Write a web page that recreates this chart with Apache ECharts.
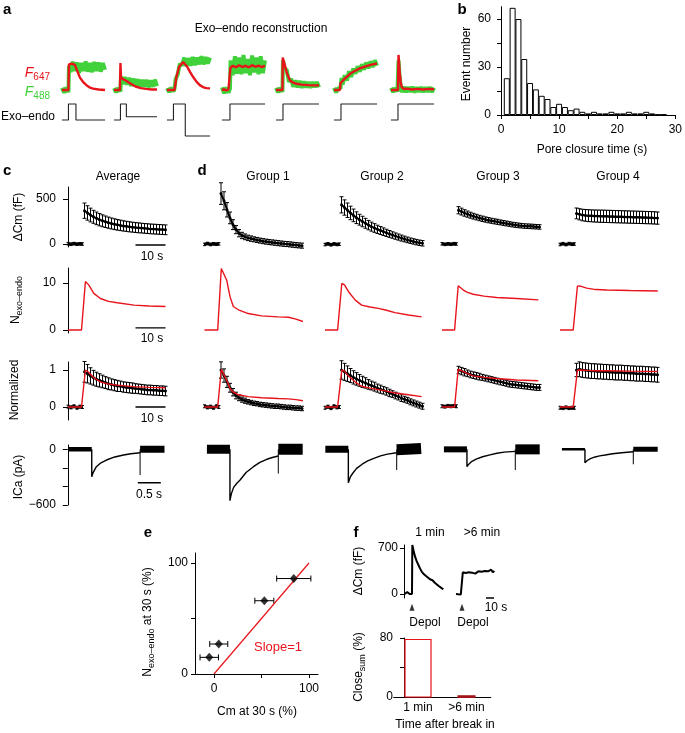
<!DOCTYPE html>
<html><head><meta charset="utf-8">
<script src="https://cdn.jsdelivr.net/npm/echarts@6/dist/echarts.min.js"></script>
<style>html,body{margin:0;padding:0;background:#fff}#c{width:685px;height:733px}</style>
</head><body><div id="c"></div>
<script>
const FONT = "'Liberation Sans', Arial, Helvetica, sans-serif";
const RED = '#e8141c', GREEN = '#41d13a', DKRED = '#a3141a';

// ---------- Panel a: exo-endo reconstruction ----------
const aRed1 = [[0,0],[6,0],[6.5,0.95],[9,0.98],[12,0.93],[14,0.72],[16.7,0.46],[20,0.28],[23,0.17],[26,0.09],[29,0.05],[34,0.02],[40,0]];
const aGreen1 = [[0,0.08],[2,-0.1],[4,0.09],[6,-0.08],[6.5,0.9],[8,0.66],[10,1.05],[12,0.7],[14,1.02],[16,0.64],[18,1.0],[20,0.7],[22,1.06],[24,0.68],[26,1.0],[28,0.66],[30,1.04],[32,0.7],[34,1.02],[36,0.68],[38,1.0],[40,0.75]];
const aRed2 = [[0,0],[5.5,0],[6,1.0],[6.5,0.45],[8,0.4],[10,0.37],[13,0.3],[16,0.22],[20,0.13],[25,0.07],[30,0.04],[35,0.02],[40,0.02]];
const aGreen2 = [[0,0.07],[2,-0.09],[4,0.08],[6,-0.06],[6.5,0.5],[8,0.22],[10,0.48],[12,0.2],[14,0.45],[16,0.15],[18,0.42],[20,0.14],[22,0.4],[24,0.12],[26,0.38],[28,0.12],[30,0.38],[32,0.1],[34,0.36],[36,0.12],[38,0.38],[40,0.14]];
const aRed3 = [[0,0],[7,0],[7.4,0.05],[8.8,0.49],[11.3,0.86],[15,1.04],[16.5,1.0],[18.5,0.88],[21.4,0.67],[24.5,0.47],[27.6,0.3],[30.5,0.18],[33.8,0.1],[37,0.07],[40,0.06]];
const aGreen3 = [[0,0.07],[2,-0.08],[4,0.09],[6,-0.06],[7,0.05],[8,0.4],[10,0.58],[12,0.98],[14,0.9],[16,1.2],[18,0.88],[20,1.18],[22,0.9],[24,1.22],[26,0.92],[28,1.2],[30,0.95],[32,1.25],[34,0.95],[36,1.22],[38,0.98],[40,1.2]];
const aRed4 = [[0,0],[2,0.03],[4,-0.02],[6,0.02],[7.4,0],[7.8,0.82],[10,0.9],[13,0.84],[16,0.92],[19,0.85],[22,0.9],[25,0.84],[28,0.92],[31,0.86],[34,0.9],[37,0.85],[40,0.9]];
const aGreen4 = [[0,0.1],[2,-0.12],[4,0.1],[6,-0.1],[7.4,0.05],[8,1.1],[10,0.55],[12,1.25],[14,0.6],[16,1.2],[18,0.58],[20,1.3],[22,0.62],[24,1.15],[26,0.55],[28,1.28],[30,0.65],[32,1.2],[34,0.58],[36,1.25],[38,0.62],[40,1.1]];
const aRed5 = [[0,0],[6,0],[6.3,1.2],[8,0.95],[10,0.64],[13,0.35],[16,0.27],[19,0.23],[24,0.2],[30,0.18],[35,0.17],[40,0.17]];
const aGreen5 = [[0,0.08],[2,-0.09],[4,0.08],[6,-0.07],[6.5,1.1],[8,0.78],[10,0.75],[12,0.3],[14,0.42],[16,0.12],[18,0.36],[20,0.1],[22,0.34],[24,0.08],[26,0.32],[28,0.09],[30,0.3],[32,0.08],[34,0.3],[36,0.1],[38,0.3],[40,0.1]];
const aRed6 = [[0,0],[5.5,0],[6,0.25],[7,0.3],[10,0.42],[15,0.6],[20,0.72],[24,0.8],[28,0.86],[33,0.92],[37,0.96],[40,0.98]];
const aGreen6 = [[0,0.08],[2,-0.09],[4,0.08],[6,0.05],[7,0.45],[8,0.2],[10,0.55],[12,0.35],[14,0.7],[16,0.48],[18,0.8],[20,0.6],[22,0.88],[24,0.68],[26,0.95],[28,0.75],[30,1.02],[32,0.8],[34,1.06],[36,0.85],[38,1.1],[40,0.9]];
const aRed7 = [[0,0],[6.5,0],[7,1.3],[8,0.7],[9,0.3],[10,0.1],[12,0.04],[15,0.05],[20,0.02],[25,0.04],[30,0.02],[35,0.04],[40,0.03]];
const aGreen7 = [[0,0.08],[2,-0.08],[4,0.08],[6,-0.06],[7,1.1],[8,0.5],[9,0.15],[10,-0.08],[12,0.12],[14,-0.08],[16,0.11],[18,-0.07],[20,0.12],[22,-0.09],[24,0.1],[26,-0.07],[28,0.11],[30,-0.08],[32,0.1],[34,-0.07],[36,0.11],[38,-0.08],[40,0.09]];
const aStep1 = [[0,0],[6,0],[6,1],[13,1],[13,0],[40,0]];
const aStep2 = [[0,0],[6,0],[6,1],[11.5,1],[11.5,0.2],[40,0.2]];
const aStep3 = [[0,0],[6,0],[6,1],[17,1],[17,-1],[40,-1]];
const aStep4 = [[0,0],[7.4,0],[7.4,1],[40,1]];
const aStep5 = [[0,0],[6.5,0],[6.5,1],[40,1]];
const aStep6 = [[0,0],[6.5,0],[6.5,1],[40,1]];
const aStep7 = [[0,0],[6.5,0],[6.5,1],[40,1]];

// ---------- Panel b: histogram ----------
const bCenters = [1,2,3,4,5,6,7,8,9,10,11,12,13,14,15,16,17,18,19,20,21,22,23,24,25,26,27,28];
const bCounts  = [23,67,60,35,20,16,12,10,5,7,5,3,4,2,1,2,1,1,2,1,1,2,1,1,2,1,0.3,0.3];
const bXTicks = [0,10,20,30];
const bYTicks = [0,30,60];

// ---------- Panels c/d ----------
const colTitles = ['Average','Group 1','Group 2','Group 3','Group 4'];
const cmT = [0.5,1.5,2.5,3.5,4.5,5.5,6.5,7.5,8.5,9.5,10.5,11.5,12.5,13.5,14.5,15.5,16.5,17.5,18.5,19.5,20.5,21.5,22.5,23.5,24.5,25.5,26.5,27.5];
const baseT = [-5,-4,-3,-2,-1,-0.2];
const cmAvg = [370,345,322,302,285,270,258,247,237,228,220,213,207,201,196,191,187,183,180,177,174,171,168,166,164,162,160,158];
const cmAvgErr = [85,80,76,72,70,68,66,64,62,61,60,59,58,57,56,56,55,55,55,54,54,54,54,54,54,54,54,54];
const cmG1 = [560,480,380,290,215,160,120,95,80,68,60,52,45,38,32,27,22,18,14,10,6,2,0,-4,-8,-12,-15,-18];
const cmG1Err = [120,100,80,65,55,45,40,35,32,30,30,28,28,28,28,28,28,28,28,28,28,28,28,28,28,28,28,28];
const cmG2 = [435,405,375,345,318,292,270,250,230,210,193,178,163,150,137,124,112,100,88,77,66,56,46,37,29,21,14,8];
const cmG2Err = [90,85,80,75,70,65,60,58,55,52,50,48,46,44,42,40,38,36,35,34,33,32,31,30,30,30,30,30];
const cmG3 = [375,360,345,332,320,309,299,289,280,272,265,258,252,246,240,234,228,222,216,211,207,203,200,198,196,194,192,190];
const cmG3Err = [40,38,36,34,33,32,31,30,30,29,29,28,28,28,27,27,27,26,26,26,26,25,25,25,25,25,25,25];
const cmG4 = [340,330,322,318,315,313,311,310,309,308,307,306,305,304,303,302,301,300,299,298,297,296,295,294,293,292,290,288];
const cmG4Err = [60,62,64,65,66,66,67,67,68,68,68,68,68,68,68,68,68,68,68,68,68,68,68,68,68,68,68,68];
const cmBaseAvg = [4,-3,5,-2,3,0];
const cmBaseG1 = [-4,6,-5,3,-2,2];
const cmBaseG2 = [-6,3,-8,2,-5,-2];
const cmBaseG3 = [3,-4,2,-3,4,1];
const cmBaseG4 = [-5,4,-6,5,-3,0];
const cmBaseErr = [14,14,14,14,14,14];

const nAvg = [[-5,0],[-0.5,0],[0.8,10.3],[1.9,9.6],[3.6,7.8],[5.8,6.7],[8.5,6.1],[11.4,5.8],[17,5.3],[22,5.1],[27.5,5.0]];
const nG1 = [[-5,0],[-0.6,0],[0.6,13.1],[1.2,12.8],[2.4,10.6],[3.5,7.1],[4.6,5.0],[6.3,4.3],[9.6,3.5],[14,3.0],[19.6,2.8],[23,2.7],[25.5,2.3],[27.8,1.8]];
const nG2 = [[-5,0],[-0.8,0],[0.6,9.9],[1.5,9.6],[2.8,8.2],[5,6.4],[7.2,5.3],[10,4.9],[12.8,4.6],[15.5,4.2],[18.3,3.7],[22.8,3.2],[27.2,2.8]];
const nG3 = [[-5,0],[-0.8,0],[0.4,9.4],[1,9.3],[2.1,8.5],[3.5,8.0],[5.4,7.6],[9,7.2],[13.2,6.9],[19.9,6.7],[27.1,6.4]];
const nG4 = [[-5,0],[-0.6,0],[0.8,9.3],[1.5,9.4],[3.9,8.9],[7,8.6],[10.6,8.5],[18.3,8.4],[27.6,8.3]];

const nnAvg = [[-5,0],[-0.5,0],[0.8,1.0],[1.9,0.94],[3.6,0.79],[5.8,0.68],[8.5,0.62],[11.4,0.59],[17,0.55],[22,0.53],[27.5,0.52]];
const nnG1 = [[-5,0],[-0.6,0],[0.6,1.02],[1.2,0.98],[2.4,0.72],[3.5,0.5],[4.6,0.4],[6.3,0.33],[9.6,0.28],[14,0.25],[19.6,0.23],[23,0.22],[25.5,0.2],[27.8,0.17]];
const nnG2 = [[-5,0],[-0.8,0],[0.6,1.0],[1.5,0.97],[2.8,0.84],[5,0.68],[7.2,0.56],[10,0.51],[12.8,0.47],[15.5,0.43],[18.3,0.38],[22.8,0.33],[27.2,0.28]];
const nnG3 = [[-5,0],[-0.8,0],[0.4,1.02],[1,1.0],[2.1,0.96],[3.5,0.9],[5.4,0.84],[9,0.8],[13.2,0.77],[19.9,0.73],[27.1,0.71]];
const nnG4 = [[-5,0],[-0.6,0],[0.8,0.99],[1.5,1.0],[3.9,0.99],[7,0.98],[10.6,0.98],[18.3,0.97],[27.6,0.96]];

const normAvg = [0.95,0.9,0.84,0.79,0.75,0.72,0.69,0.66,0.63,0.61,0.59,0.57,0.56,0.54,0.53,0.52,0.51,0.5,0.49,0.48,0.47,0.46,0.46,0.45,0.45,0.44,0.44,0.43];
const normAvgErr = [0.28,0.25,0.22,0.2,0.19,0.18,0.17,0.16,0.16,0.15,0.15,0.15,0.14,0.14,0.14,0.14,0.14,0.13,0.13,0.13,0.13,0.13,0.13,0.13,0.13,0.13,0.13,0.13];
const normG1 = [1.0,0.85,0.68,0.52,0.4,0.31,0.25,0.2,0.17,0.14,0.12,0.1,0.09,0.07,0.06,0.05,0.04,0.03,0.02,0.02,0.01,0,-0.01,-0.01,-0.02,-0.03,-0.03,-0.04];
const normG1Err = [0.22,0.18,0.15,0.12,0.1,0.09,0.08,0.07,0.07,0.06,0.06,0.06,0.06,0.06,0.06,0.06,0.06,0.06,0.06,0.06,0.06,0.06,0.06,0.06,0.06,0.06,0.06,0.06];
const normG2 = [1.0,0.95,0.9,0.85,0.8,0.76,0.72,0.68,0.65,0.61,0.58,0.55,0.51,0.48,0.45,0.42,0.38,0.35,0.31,0.28,0.24,0.21,0.18,0.14,0.11,0.08,0.05,0.02];
const normG2Err = [0.25,0.23,0.21,0.19,0.18,0.17,0.16,0.15,0.14,0.13,0.12,0.12,0.11,0.11,0.1,0.1,0.1,0.09,0.09,0.09,0.09,0.08,0.08,0.08,0.08,0.08,0.08,0.08];
const normG3 = [1.0,0.97,0.94,0.91,0.88,0.86,0.84,0.82,0.8,0.78,0.76,0.74,0.72,0.7,0.68,0.66,0.64,0.62,0.61,0.6,0.59,0.58,0.57,0.56,0.55,0.54,0.53,0.53];
const normG3Err = [0.1,0.1,0.1,0.09,0.09,0.09,0.09,0.09,0.08,0.08,0.08,0.08,0.08,0.08,0.08,0.08,0.08,0.08,0.08,0.08,0.08,0.08,0.08,0.08,0.08,0.08,0.08,0.08];
const normG4 = [1.0,1.02,1.0,0.99,0.98,0.97,0.97,0.96,0.96,0.95,0.95,0.94,0.94,0.93,0.93,0.93,0.92,0.92,0.91,0.91,0.9,0.9,0.9,0.89,0.89,0.88,0.88,0.87];
const normG4Err = [0.18,0.2,0.2,0.2,0.2,0.2,0.2,0.2,0.2,0.2,0.2,0.2,0.2,0.2,0.2,0.2,0.2,0.2,0.2,0.2,0.2,0.2,0.2,0.2,0.2,0.2,0.2,0.2];
const normBaseAvg = [0.01,-0.01,0.02,-0.02,0.01,0];
const normBaseG1 = [0.02,-0.01,0.01,-0.02,0.02,0];
const normBaseG2 = [-0.02,0.01,-0.03,0.02,-0.01,0];
const normBaseG3 = [0.02,0.01,0.03,0.02,0.03,0.02];
const normBaseG4 = [-0.02,-0.03,-0.01,-0.03,-0.02,-0.02];
const normBaseErr = [0.04,0.04,0.04,0.04,0.04,0.04];

const icaTailAvg = [[0,0],[0,-296],[0.03,-250],[0.1,-187],[0.2,-145],[0.32,-115],[0.5,-82],[0.69,-61],[0.85,-47],[1.05,-36]];
const icaTailG1 = [[0,0],[0,-553],[0.03,-480],[0.08,-410],[0.15,-365],[0.22,-330],[0.35,-250],[0.51,-187],[0.65,-140],[0.8,-107],[0.92,-88],[1.05,-72]];
const icaTailG2 = [[0,0],[0,-360],[0.04,-300],[0.1,-255],[0.18,-205],[0.3,-160],[0.42,-125],[0.54,-100],[0.7,-70],[0.85,-52],[1.05,-36]];
const icaTailG3 = [[0,0],[0,-187],[0.04,-160],[0.1,-132],[0.2,-105],[0.34,-80],[0.5,-60],[0.65,-42],[0.81,-30],[1.05,-22]];
const icaTailG4 = [[0,0],[0,-144],[0.05,-120],[0.12,-100],[0.22,-82],[0.32,-70],[0.44,-61],[0.6,-48],[0.8,-36],[0.98,-28],[1.05,-26]];
const icaSpike = [-277,-261,-222,-223,-161];
const icaPre = [[-0.5,0],[0,0]];
const icaPost = [[1.05,0],[1.58,0]];
const icaPostG2 = [[1.05,-5],[1.58,10]];

const scaleCmT = [17.5,27.5];
const scaleIcaT = [1.0,1.5];

// ---------- Panel e ----------
const eX = [84,53,5,-5];
const eY = [86,66,27,15];
const eXErr = [18,10,9.5,9.7];
const eLine = [[0,0],[100,100]];

// ---------- Panel f ----------
const fTrace1 = [[-9,0],[-8,20],[-7,5],[-6,30],[-5,10],[-4,25],[-3,0],[-2,15],[-1,-5],[0,0],[0.4,745],[2,660],[3.75,572],[5.8,500],[7.9,445],[10,390],[12.1,342],[15,300],[18.3,266],[20.5,245],[22.5,225],[23.5,238],[24.6,240],[25.6,210],[26.7,189],[28.5,172],[30.8,148],[33,125],[35,102],[37,90],[39.2,72]];
const fTrace2 = [[55,0],[56,-10],[57,15],[58,-5],[59,10],[60,0],[61,-8],[62,5],[63,5],[63.5,330],[65,350],[67,320],[69,345],[71,330],[73,355],[75,325],[77,340],[79,310],[81,335],[83,345],[85,320],[87,340],[89,330],[91,350],[93,325],[95,345],[97,335],[99,370],[101,330],[103,350]];
const fArrowT = [0,62.5];
const fScaleT = [92.5,102.5];
const fCats = ['1 min','>6 min'];
const fClose = [78,1.5];

// ================= build =================
const grids=[], xAxis=[], yAxis=[], series=[], graphic=[];
function grid(left, top, width, height, xa, ya){
  const i = grids.length;
  grids.push({left, top, width, height, containLabel:false});
  xAxis.push(Object.assign({gridIndex:i, type:'value', show:false, splitLine:{show:false}}, xa));
  yAxis.push(Object.assign({gridIndex:i, type:'value', show:false, splitLine:{show:false}}, ya));
  return i;
}
const fmt = v => v < 0 ? '\u2212' + Math.abs(v) : String(v);
function ax(min, max, ticks, labels, margin, extra){
  return Object.assign({type:'value', show:true, min, max,
    axisLine:{show:true, onZero:false, lineStyle:{color:'#000', width:1}},
    axisTick:{show:true, customValues:ticks, length:4, lineStyle:{color:'#000', width:1}},
    axisLabel:{show:true, customValues:labels, margin, color:'#000', fontSize:12, fontFamily:FONT, formatter:fmt},
    splitLine:{show:false}}, extra||{});
}
function line(gi, data, color, width, extra){
  series.push(Object.assign({type:'line', xAxisIndex:gi, yAxisIndex:gi, data, symbol:'none',
    lineStyle:{color, width}, animation:false, silent:true, z:3}, extra||{}));
}
function pairs(t, v){ return t.map((x,i)=>[x, v[i]]); }
function errY(gi, t, v, e, color, cap){
  const data = t.map((x,i)=>[x, v[i], e[i]]);
  series.push({type:'custom', xAxisIndex:gi, yAxisIndex:gi, data, silent:true, animation:false, z:2,
    encode:{x:0, y:1},
    renderItem:(p, api)=>{
      const x=api.value(0), y=api.value(1), d=api.value(2);
      const a=api.coord([x,y+d]), b=api.coord([x,y-d]); const c=cap||2;
      const st={stroke:color||'#000', lineWidth:1};
      return {type:'group', children:[
        {type:'line', shape:{x1:a[0],y1:a[1],x2:b[0],y2:b[1]}, style:st},
        {type:'line', shape:{x1:a[0]-c,y1:a[1],x2:a[0]+c,y2:a[1]}, style:st},
        {type:'line', shape:{x1:b[0]-c,y1:b[1],x2:b[0]+c,y2:b[1]}, style:st}]};
    }});
}
function T(x, y, text, o){
  o = o || {};
  const font = (o.bold?'bold ':'') + (o.italic?'italic ':'') + (o.size||12) + 'px ' + FONT;
  graphic.push({type:'text', x, y, rotation:o.rot||0, silent:true, z:10,
    style:{text, fill:o.color||'#000', font, fontSize:o.size||12, fontFamily:FONT, fontWeight:o.bold?'bold':'normal',
      textAlign:o.align||'center', align:o.align||'center', textVerticalAlign:'middle', verticalAlign:'middle', rich:o.rich}});
}

// ---- panel a ----
const aLefts = [62,114,167,222,276,334,391];
const aReds = [aRed1,aRed2,aRed3,aRed4,aRed5,aRed6,aRed7];
const aGreens = [aGreen1,aGreen2,aGreen3,aGreen4,aGreen5,aGreen6,aGreen7];
const aSteps = [aStep1,aStep2,aStep3,aStep4,aStep5,aStep6,aStep7];
aLefts.forEach((L,i)=>{
  const g = grid(L, 45, 43, 55, {min:0, max:40}, {min:-0.37, max:1.667});
  line(g, aGreens[i], GREEN, 4);
  line(g, aReds[i], RED, 2.4);
  const s = grid(L, 98, 43, 42, {min:0, max:40}, {min:-1.25, max:1.375});
  line(s, aSteps[i], '#222', 1.1);
});
T(3, 10, 'a', {bold:true, size:15, align:'left'});
T(261, 29, 'Exo\u2013endo reconstruction', {size:12});
T(50, 73, '{f|F}{s|647}', {align:'right', color:RED, rich:{f:{fontStyle:'italic', fontSize:14, fontFamily:FONT, fill:RED, color:RED}, s:{fontSize:10, fontFamily:FONT, fill:RED, color:RED, padding:[8,0,0,0]}}});
T(50, 92, '{f|F}{s|488}', {align:'right', color:GREEN, rich:{f:{fontStyle:'italic', fontSize:14, fontFamily:FONT, fill:GREEN, color:GREEN}, s:{fontSize:10, fontFamily:FONT, fill:GREEN, color:GREEN, padding:[8,0,0,0]}}});
T(1, 117, 'Exo\u2013endo', {align:'left', size:12});

// ---- panel b ----
const gb = grid(501, 6.7, 180, 108.3,
  ax(0, 30, [0,5,10,15,20,25,30], bXTicks, 9),
  ax(0, 67.7, [0,15,30,45,60], bYTicks, 10));
series.push({type:'bar', xAxisIndex:gb, yAxisIndex:gb, data:pairs(bCenters,bCounts), barWidth:6,
  itemStyle:{color:'#fff', borderColor:'#000', borderWidth:1}, animation:false, silent:true});
T(462, 10, 'b', {bold:true, size:15});
T(467, 64, 'Event number', {rot:Math.PI/2});
T(592, 150, 'Pore closure time (s)');

// ---- panels c/d ----
const cols = [
  {left:68, icaLeft:67.8, axes:true, cm:cmAvg, cmE:cmAvgErr, cmB:cmBaseAvg, n:nAvg, nn:nnAvg, nm:normAvg, nmE:normAvgErr, nmB:normBaseAvg, tail:icaTailAvg, pre:4.5, post:7, postD:icaPost, tx:118},
  {left:204.5, icaLeft:206, cm:cmG1, cmE:cmG1Err, cmB:cmBaseG1, n:nG1, nn:nnG1, nm:normG1, nmE:normG1Err, nmB:normBaseG1, tail:icaTailG1, pre:9, post:11, postD:icaPost, tx:268},
  {left:325, icaLeft:324.4, cm:cmG2, cmE:cmG2Err, cmB:cmBaseG2, n:nG2, nn:nnG2, nm:normG2, nmE:normG2Err, nmB:normBaseG2, tail:icaTailG2, pre:7, post:11, postD:icaPostG2, tx:382},
  {left:442, icaLeft:443, cm:cmG3, cmE:cmG3Err, cmB:cmBaseG3, n:nG3, nn:nnG3, nm:normG3, nmE:normG3Err, nmB:normBaseG3, tail:icaTailG3, pre:6, post:10, postD:icaPost, tx:498},
  {left:560, icaLeft:561, cm:cmG4, cmE:cmG4Err, cmB:cmBaseG4, n:nG4, nn:nnG4, nm:normG4, nmE:normG4Err, nmB:normBaseG4, tail:icaTailG4, pre:2.5, post:5, postD:icaPost, tx:618}
];
const xr = {min:-5, max:28};
cols.forEach((c, ci)=>{
  const g1 = grid(c.left, 187, 99, 60, xr, c.axes ? ax(-33, 633, [0,500], [0,500], 12, {axisTick:{show:true, customValues:[0,500], length:5, lineStyle:{color:'#000'}}}) : {min:-33, max:633});
  errY(g1, cmT, c.cm, c.cmE, '#000', 2);
  line(g1, pairs(cmT, c.cm), '#000', 2, {symbol:'circle', symbolSize:3, showSymbol:true, itemStyle:{color:'#000'}});
  errY(g1, baseT, c.cmB, cmBaseErr, '#000', 1.5);
  line(g1, pairs(baseT, c.cmB), '#000', 3);
  const g2 = grid(c.left, 268, 99, 65, xr, c.axes ? ax(-0.64, 13.19, [0,10], [0,10], 12, {axisTick:{show:true, customValues:[0,10], length:5, lineStyle:{color:'#000'}}}) : {min:-0.64, max:13.19});
  line(g2, c.n, RED, 1.4);
  const g3 = grid(c.left, 362, 99, 58, xr, c.axes ? ax(-0.351, 1.216, [0,1], [0,1], 12, {axisTick:{show:true, customValues:[0,1], length:5, lineStyle:{color:'#000'}}}) : {min:-0.351, max:1.216});
  errY(g3, cmT, c.nm, c.nmE, '#000', 2);
  line(g3, pairs(cmT, c.nm), '#000', 2, {symbol:'circle', symbolSize:3, showSymbol:true, itemStyle:{color:'#000'}});
  errY(g3, baseT, c.nmB, normBaseErr, '#000', 1.5);
  line(g3, pairs(baseT, c.nmB), '#000', 3);
  line(g3, c.nn, RED, 1.4, {z:5});
  const g4 = grid(c.icaLeft, 445, 99, 60, {min:-0.52, max:1.63}, c.axes ? ax(-600, 47, [0,-200,-400,-600], [0,-600], 12, {axisTick:{show:true, customValues:[0,-200,-400,-600], length:5, lineStyle:{color:'#000'}}}) : {min:-600, max:47});
  line(g4, icaPre, '#000', c.pre);
  line(g4, c.tail, '#000', 1.4);
  line(g4, [[1.05, icaSpike[ci]], [1.05, 0]], '#000', 1);
  line(g4, c.postD, '#000', c.post);
  if (c.axes) {
    line(g1, scaleCmT.map(t=>[t,-11]), '#000', 1.3);
    line(g2, scaleCmT.map(t=>[t,0.43]), '#000', 1.3);
    line(g3, scaleCmT.map(t=>[t,0]), '#000', 1.3);
    line(g4, scaleIcaT.map(t=>[t,-360]), '#000', 1.3);
  }
  T(c.tx, 177, colTitles[ci]);
});
T(152, 257, '10 s'); T(152, 339, '10 s'); T(152, 419, '10 s'); T(149, 495, '0.5 s');
T(3, 171, 'c', {bold:true, size:15, align:'left'});
T(202, 171, 'd', {bold:true, size:15});
T(19, 217, '\u0394Cm (fF)', {rot:Math.PI/2});
T(16, 300, '{n|N}{s|exo\u2013endo}', {rot:Math.PI/2, rich:{n:{fontSize:12, fontFamily:FONT}, s:{fontSize:9, fontFamily:FONT, padding:[7,0,0,0]}}});
T(15, 390, 'Normalized', {rot:Math.PI/2});
T(19, 477, 'ICa (pA)', {rot:Math.PI/2});

// ---- panel e ----
const ge = grid(195, 553, 123, 121,
  ax(-20, 109.5, [0,50,100], [0,100], 9),
  ax(0, 109, [0,50,100], [0,100], 7));
series.push({type:'line', xAxisIndex:ge, yAxisIndex:ge, data:eLine, symbol:'none', lineStyle:{color:RED, width:1.2}, animation:false, silent:true});
series.push({type:'custom', xAxisIndex:ge, yAxisIndex:ge, data:eX.map((x,i)=>[x,eY[i],eXErr[i]]), encode:{x:0,y:1}, silent:true, animation:false,
  renderItem:(p, api)=>{
    const x=api.value(0), y=api.value(1), d=api.value(2);
    const a=api.coord([x-d,y]), b=api.coord([x+d,y]); const c=3; const st={stroke:'#000', lineWidth:1};
    return {type:'group', children:[
      {type:'line', shape:{x1:a[0],y1:a[1],x2:b[0],y2:b[1]}, style:st},
      {type:'line', shape:{x1:a[0],y1:a[1]-c,x2:a[0],y2:a[1]+c}, style:st},
      {type:'line', shape:{x1:b[0],y1:b[1]-c,x2:b[0],y2:b[1]+c}, style:st}]};
  }});
series.push({type:'scatter', xAxisIndex:ge, yAxisIndex:ge, data:pairs(eX,eY), symbol:'diamond', symbolSize:[8,9], itemStyle:{color:'#000'}, animation:false, silent:true, z:5});
T(148, 533, 'e', {bold:true, size:15});
T(278, 647, 'Slope=1', {color:RED, size:13});
T(257, 712, 'Cm at 30 s (%)');
T(148, 622, '{n|N}{s|exo\u2013endo}{n| at 30 s (%)}', {rot:Math.PI/2, rich:{n:{fontSize:12, fontFamily:FONT}, s:{fontSize:9, fontFamily:FONT, padding:[7,0,0,0]}}});

// ---- panel f ----
const gf1 = grid(404, 545, 96, 53, {min:-10, max:110},
  ax(-61, 746, [0,700], [0,700], 6));
line(gf1, fTrace1, '#000', 2);
line(gf1, fTrace2, '#000', 2);
line(gf1, fScaleT.map(t=>[t,-61]), '#000', 1.5, {clip:false});
series.push({type:'scatter', xAxisIndex:gf1, yAxisIndex:gf1, data:fArrowT.map(t=>[t,-200]), symbol:'triangle', symbolSize:[5,7], itemStyle:{color:'#000'}, clip:false, animation:false, silent:true});
const gf2 = grid(393.75, 638, 97, 59,
  {type:'category', show:true, data:fCats, boundaryGap:true,
   axisLine:{show:true, onZero:false, lineStyle:{color:'#000'}}, axisTick:{show:false},
   axisLabel:{color:'#000', fontSize:12, fontFamily:FONT, margin:5}},
  ax(0, 80, [0,40,80], [0,80], 11, {offset:-10.25}));
const fBarW = [26, 17];
series.push({type:'custom', xAxisIndex:gf2, yAxisIndex:gf2, data:fClose.map((v,i)=>[i,v]), encode:{x:0,y:1}, silent:true, animation:false,
  renderItem:(p, api)=>{
    const i=p.dataIndex; const top=api.coord([api.value(0), api.value(1)]); const base=api.coord([api.value(0), 0]);
    const w=fBarW[i];
    return {type:'rect', shape:{x:top[0]-w/2, y:top[1], width:w, height:Math.max(base[1]-top[1],1.5)},
      style:{fill: i ? DKRED : '#fff', stroke: i ? DKRED : RED, lineWidth:1.2}};
  }});
T(356, 533, 'f', {bold:true, size:15});
T(430, 533, '1 min'); T(482, 533, '>6 min');
T(359, 571, '\u0394Cm (fF)', {rot:Math.PI/2});
T(496, 608, '10 s');
T(425, 623, 'Depol'); T(473, 623, 'Depol');
T(359, 667, '{n|Close}{s|sum}{n| (%)}', {rot:Math.PI/2, rich:{n:{fontSize:12, fontFamily:FONT}, s:{fontSize:9, fontFamily:FONT, padding:[7,0,0,0]}}});
T(445, 725, 'Time after break in');

const chart = echarts.init(document.getElementById('c'), null, {renderer:'canvas', width:685, height:733});
chart.setOption({animation:false, backgroundColor:'#fff', textStyle:{fontFamily:FONT},
  grid:grids, xAxis, yAxis, series, graphic:{elements:graphic}});
</script></body></html>
